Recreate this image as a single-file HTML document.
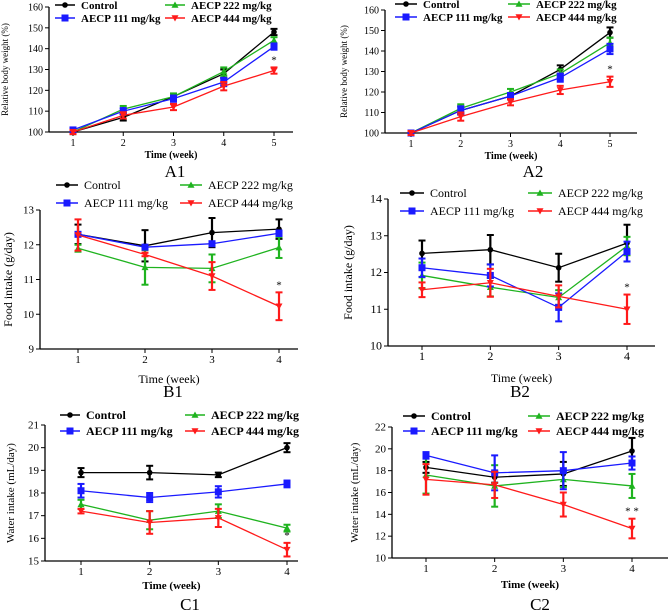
<!DOCTYPE html>
<html><head><meta charset="utf-8"><style>
html,body{margin:0;padding:0;background:#fff;}
svg{display:block;font-family:"Liberation Serif",serif;}
</style></head><body>
<svg id="fig" width="669" height="613" viewBox="0 0 669 613" xmlns="http://www.w3.org/2000/svg"></svg>
<script>
// ---- data ----
const seriesNames = ["Control","AECP 111 mg/kg","AECP 222 mg/kg","AECP 444 mg/kg"];
const a1Weeks = [1,2,3,4,5];
const a1Control = [100,107,117,128,148];
const a1Dose111 = [101,110,116,124,141];
const a1Dose222 = [100,111,117,129,144];
const a1Dose444 = [100,108,112,122,129.5];
const a1Err = [1,1.5,1.5,2,1.5];
const a2Weeks = [1,2,3,4,5];
const a2Control = [100,111,118,131,149];
const a2Dose111 = [100,111,118,127,141];
const a2Dose222 = [100,112,120,129,144];
const a2Dose444 = [100,108,115,121,125];
const a2Err = [1,2,1.5,2,2.5];
const b1Weeks = [1,2,3,4];
const b1Control = [12.3,11.97,12.35,12.45];
const b1ControlErr = [0.28,0.45,0.42,0.28];
const b1Dose111 = [12.3,11.93,12.03,12.33];
const b1Dose111Err = [0.05,0.05,0.06,0.08];
const b1Dose222 = [11.9,11.35,11.32,11.92];
const b1Dose222Err = [0.1,0.5,0.4,0.3];
const b1Dose444 = [12.28,11.72,11.1,10.23];
const b1Dose444Err = [0.45,0.05,0.4,0.4];
const b2Weeks = [1,2,3,4];
const b2Control = [12.52,12.62,12.13,12.8];
const b2ControlErr = [0.35,0.4,0.38,0.5];
const b2Dose111 = [12.13,11.92,11.05,12.57];
const b2Dose111Err = [0.25,0.3,0.38,0.27];
const b2Dose222 = [11.92,11.6,11.32,12.72];
const b2Dose222Err = [0.35,0.25,0.2,0.25];
const b2Dose444 = [11.53,11.72,11.35,11.0];
const b2Dose444Err = [0.2,0.38,0.3,0.4];
const c1Weeks = [1,2,3,4];
const c1Control = [18.9,18.9,18.8,20.0];
const c1ControlErr = [0.2,0.3,0.1,0.2];
const c1Dose111 = [18.1,17.8,18.05,18.4];
const c1Dose111Err = [0.3,0.2,0.25,0.15];
const c1Dose222 = [17.5,16.8,17.2,16.45];
const c1Dose222Err = [0.2,0.4,0.3,0.15];
const c1Dose444 = [17.2,16.7,16.9,15.5];
const c1Dose444Err = [0.1,0.5,0.4,0.3];
const c2Weeks = [1,2,3,4];
const c2Control = [18.3,17.4,17.7,19.8];
const c2ControlErr = [0.5,0.5,1.1,1.2];
const c2Dose111 = [19.4,17.8,18.0,18.7];
const c2Dose111Err = [0.3,1.6,1.7,0.6];
const c2Dose222 = [17.6,16.6,17.2,16.6];
const c2Dose222Err = [1.7,1.9,0.7,1.1];
const c2Dose444 = [17.2,16.7,14.9,12.7];
const c2Dose444Err = [1.4,1.2,1.1,0.9];
const a1Ticks = [100,110,120,130,140,150,160];
const a2Ticks = [100,110,120,130,140,150,160];
const b1Ticks = [9,10,11,12,13];
const b2Ticks = [10,11,12,13,14];
const c1Ticks = [15,16,17,18,19,20,21];
const c2Ticks = [10,12,14,16,18,20,22];

const colors = ["#000000","#1a1aff","#1fb31f","#ff1a1a"];
const NS = "http://www.w3.org/2000/svg";
const svg = document.getElementById("fig");
function mk(tag, attrs, parent, text){
  const e = document.createElementNS(NS, tag);
  for (const k in attrs) e.setAttribute(k, attrs[k]);
  if (text !== undefined) e.textContent = text;
  (parent||svg).appendChild(e);
  return e;
}
function marker(g, kind, x, y, c, s){
  let m;
  if (kind===0) m = mk("circle",{cx:x,cy:y,r:s*0.8,fill:c},g);
  else if (kind===1) m = mk("rect",{x:x-s,y:y-s,width:2*s,height:2*s,fill:c},g);
  else if (kind===2) m = mk("polygon",{points:`${x},${y-s} ${x-s},${y+s*0.8} ${x+s},${y+s*0.8}`,fill:c},g);
  else m = mk("polygon",{points:`${x},${y+s} ${x-s},${y-s*0.8} ${x+s},${y-s*0.8}`,fill:c},g);
  return m;
}
function panel(p){
  const g = mk("g",{});
  
  
  const ys = v => p.y0 + (v - p.ymin)/(p.ymax - p.ymin)*(p.y1 - p.y0);
  const xs = w => p.x1 + (w - p.weeks[0])/(p.weeks[p.weeks.length-1]-p.weeks[0])*(p.xN - p.x1);
  const yAxis = mk("line",{x1:p.ax,y1:ys(p.ticks[p.ticks.length-1]),x2:p.ax,y2:ys(p.ticks[0]),stroke:"#000","stroke-width":1.3},g);
  
  
  const xAxis = mk("line",{x1:p.ax,y1:ys(p.ticks[0]),x2:p.axR,y2:ys(p.ticks[0]),stroke:"#000","stroke-width":1.3},g);
  
  
  p.ticks.forEach(t=>{
    mk("line",{x1:p.ax-4,y1:ys(t),x2:p.ax,y2:ys(t),stroke:"#000","stroke-width":1},g);
    const tl = mk("text",{x:p.ax-6,y:ys(t)+3.5,"text-anchor":"end","font-size":p.tfs},g,String(t));
    
    
  });
  p.weeks.forEach(w=>{
    mk("line",{x1:xs(w),y1:ys(p.ticks[0]),x2:xs(w),y2:ys(p.ticks[0])+4,stroke:"#000","stroke-width":1},g);
    const tl = mk("text",{x:xs(w),y:ys(p.ticks[0])+14,"text-anchor":"middle","font-size":p.tfs},g,String(w));
    
    
  });
  const yt = mk("text",{x:0,y:0,"text-anchor":"middle","font-size":p.yfs,transform:`translate(${p.ytx},${(ys(p.ticks[0])+ys(p.ticks[p.ticks.length-1]))/2}) rotate(-90)`},g,p.ylabel);
  
  
  const xt = mk("text",{x:(p.ax+p.axR)/2,y:p.xty,"text-anchor":"middle","font-size":p.xfs,"font-weight":p.bold?"bold":"normal"},g,"Time (week)");
  
  
  const pl = mk("text",{x:p.plx,y:p.ply,"text-anchor":"middle","font-size":17},g,p.label);
  
  
  const draw = [0,2,1,3];
  draw.forEach(si=>{
    const vals = p.series[si], errs = p.errs[si], c = colors[si];
    const sg = mk("g",{},g);
    
    
    const pts = vals.map((v,i)=>`${xs(p.weeks[i])},${ys(v)}`).join(" ");
    mk("polyline",{points:pts,fill:"none",stroke:c,"stroke-width":1.3},sg);
    vals.forEach((v,i)=>{
      const x = xs(p.weeks[i]), e = errs[i];
      mk("line",{x1:x,y1:ys(v-e),x2:x,y2:ys(v+e),stroke:c,"stroke-width":2.2},sg);
      mk("line",{x1:x-3.5,y1:ys(v+e),x2:x+3.5,y2:ys(v+e),stroke:c,"stroke-width":2},sg);
      mk("line",{x1:x-3.5,y1:ys(v-e),x2:x+3.5,y2:ys(v-e),stroke:c,"stroke-width":2},sg);
      const m = marker(sg, si, x, ys(v), c, 3.5);
      
      
    });
  });
  // significance star
  const last = p.series[3].length-1;
  const st = mk("text",{x:xs(p.weeks[last]),y:ys(p.series[3][last]+p.errs[3][last])-4,"text-anchor":"middle","font-size":11},g,p.star);
  
  
  // legend
  const order = [[0,0,0],[1,0,1],[2,1,0],[3,1,1]];
  order.forEach(([si,col,row])=>{
    const lx = p.leg[col], ly = p.legY[row];
    const le = mk("g",{},g);
    
    
    mk("line",{x1:lx,y1:ly,x2:lx+p.legW,y2:ly,stroke:colors[si],"stroke-width":1.5},le);
    marker(le, si, lx+p.legW/2, ly, colors[si], 3.5);
    mk("text",{x:lx+p.legW+6,y:ly+4,"font-size":p.lfs,"font-weight":p.bold?"bold":"normal"},le,seriesNames[si]);
  });
}
panel({id:"a1",label:"A1",weeks:a1Weeks,series:[a1Control,a1Dose111,a1Dose222,a1Dose444],errs:[a1Err,a1Err,a1Err,a1Err],
  ticks:a1Ticks,ymin:100,ymax:160,y0:132,y1:7,ax:49,axR:293,x1:73,xN:274,tfs:10,yfs:9,ytx:8,xfs:10,xty:158,plx:175,ply:177,
  ylabel:"Relative body weight (%)",star:"*",leg:[55,165],legY:[5,18],legW:20,lfs:11,bold:true});
panel({id:"a2",label:"A2",weeks:a2Weeks,series:[a2Control,a2Dose111,a2Dose222,a2Dose444],errs:[a2Err,a2Err,a2Err,a2Err],
  ticks:a2Ticks,ymin:100,ymax:160,y0:133,y1:10,ax:385,axR:637,x1:411,xN:610,tfs:10,yfs:9,ytx:347,xfs:10,xty:159,plx:533,ply:177,
  ylabel:"Relative body weight (%)",star:"*",leg:[395,508],legY:[4,17],legW:22,lfs:11,bold:true});
panel({id:"b1",label:"B1",weeks:b1Weeks,series:[b1Control,b1Dose111,b1Dose222,b1Dose444],errs:[b1ControlErr,b1Dose111Err,b1Dose222Err,b1Dose444Err],
  ticks:b1Ticks,ymin:9,ymax:13,y0:349,y1:210,ax:40,axR:298,x1:78,xN:279,tfs:11,yfs:12,ytx:12,xfs:12,xty:383,plx:173,ply:397,
  ylabel:"Food intake (g/day)",star:"*",leg:[56,180],legY:[185,203],legW:22,lfs:12,bold:false});
panel({id:"b2",label:"B2",weeks:b2Weeks,series:[b2Control,b2Dose111,b2Dose222,b2Dose444],errs:[b2ControlErr,b2Dose111Err,b2Dose222Err,b2Dose444Err],
  ticks:b2Ticks,ymin:10,ymax:14,y0:346,y1:199,ax:388,axR:655,x1:422,xN:627,tfs:12,yfs:12,ytx:352,xfs:12,xty:382,plx:520,ply:397,
  ylabel:"Food intake (g/day)",star:"*",leg:[400,528],legY:[193,211],legW:24,lfs:12,bold:false});
panel({id:"c1",label:"C1",weeks:c1Weeks,series:[c1Control,c1Dose111,c1Dose222,c1Dose444],errs:[c1ControlErr,c1Dose111Err,c1Dose222Err,c1Dose444Err],
  ticks:c1Ticks,ymin:15,ymax:21,y0:561,y1:425,ax:45,axR:298,x1:81,xN:287,tfs:11,yfs:11,ytx:14,xfs:11,xty:589,plx:190,ply:610,
  ylabel:"Water intake (mL/day)",star:"*",leg:[60,185],legY:[415,431],legW:20,lfs:12,bold:true});
panel({id:"c2",label:"C2",weeks:c2Weeks,series:[c2Control,c2Dose111,c2Dose222,c2Dose444],errs:[c2ControlErr,c2Dose111Err,c2Dose222Err,c2Dose444Err],
  ticks:c2Ticks,ymin:10,ymax:22,y0:558,y1:427,ax:392,axR:668,x1:426,xN:632,tfs:11,yfs:11,ytx:358,xfs:11,xty:588,plx:540,ply:610,
  ylabel:"Water intake (mL/day)",star:"* *",leg:[403,528],legY:[416,431],legW:22,lfs:12,bold:true});
</script>
</body></html>
